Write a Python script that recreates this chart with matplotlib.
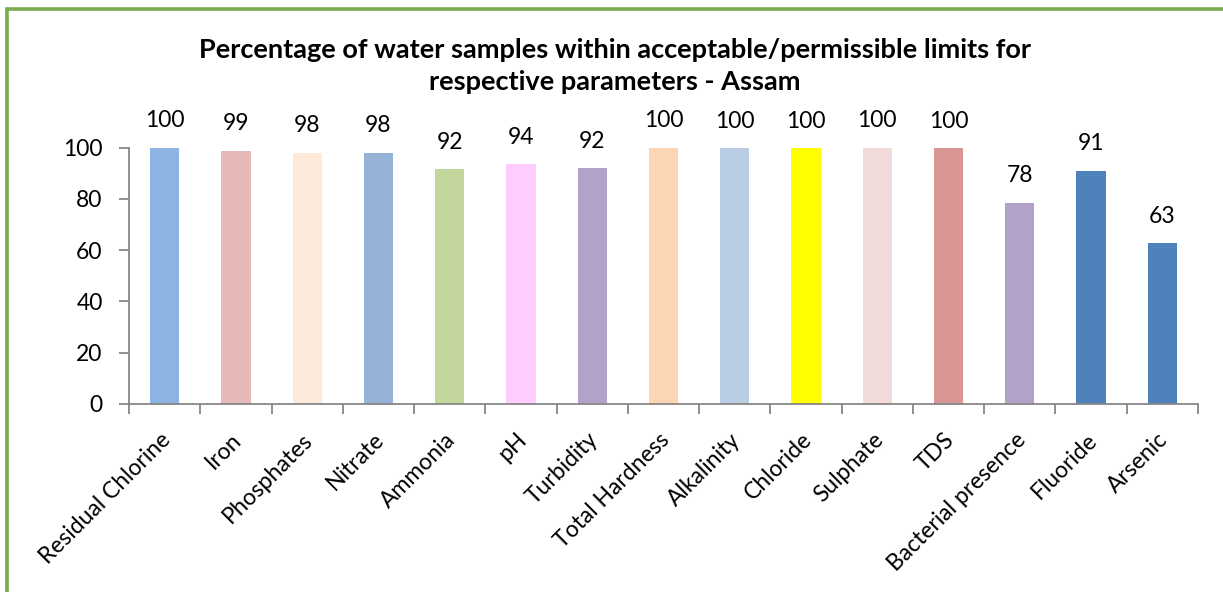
import matplotlib
matplotlib.use('Agg')
import matplotlib.pyplot as plt
from matplotlib.patches import Rectangle
from matplotlib.transforms import ScaledTranslation

plt.rcParams['font.family'] = ['Lato', 'DejaVu Sans']

# data
parameters = ['Residual Chlorine', 'Iron', 'Phosphates', 'Nitrate', 'Ammonia', 'pH',
              'Turbidity', 'Total Hardness', 'Alkalinity', 'Chloride', 'Sulphate',
              'TDS', 'Bacterial presence', 'Fluoride', 'Arsenic']
percent_ok = [99.9, 98.7, 97.9, 97.9, 91.6, 93.6, 92.0, 100.0, 99.8, 99.8, 100.0,
              99.8, 78.4, 91.0, 62.7]
bar_colors = ['#8EB4E3', '#E6B9B8', '#FDEADA', '#95B3D7', '#C3D69B', '#FFCCFF',
              '#B3A2C7', '#FCD5B5', '#B9CDE5', '#FFFF00', '#F2DCDB', '#D99694',
              '#B3A2C7', '#4F81BD', '#4F81BD']
y_ticks = [0, 20, 40, 60, 80, 100]
title = ('Percentage of water samples within acceptable/permissible limits for\n'
         'respective parameters - Assam')

W, H = 1223, 592
fig = plt.figure(figsize=(W / 100, H / 100), dpi=100)
ax = fig.add_axes([129 / W, 1 - 404 / H, (1198 - 129) / W, (404 - 147.7) / H])

x = list(range(len(parameters)))
bars = ax.bar(x, percent_ok, width=0.41, color=bar_colors, zorder=2)

for xi, v in zip(x, percent_ok):
    ax.annotate(f'{v:.0f}', (xi, v), xytext=(0, 19.5), textcoords='offset points',
                ha='center', va='center', fontsize=16.5, annotation_clip=False)

ax.set_xlim(-0.5, len(parameters) - 0.5)
ax.set_ylim(0, 100)
ax.set_yticks(y_ticks)
ax.tick_params(axis='y', labelsize=16.5, length=7, width=1.3, color='#878787', pad=12)

ax.set_xticks(x)
ax.set_xticklabels(parameters, rotation=45, ha='right', rotation_mode='anchor', fontsize=16.5)
ax.set_xticks([i - 0.5 for i in range(len(parameters) + 1)], minor=True)
ax.tick_params(axis='x', which='major', length=0, pad=18)
ax.tick_params(axis='x', which='minor', length=7, width=1.3, color='#878787')
shift = ScaledTranslation(-5 / 100, 0, fig.dpi_scale_trans)
for lbl in ax.get_xticklabels():
    lbl.set_transform(lbl.get_transform() + shift)

for side in ['top', 'right']:
    ax.spines[side].set_visible(False)
for side in ['left', 'bottom']:
    ax.spines[side].set_color('#878787')
    ax.spines[side].set_linewidth(1.3)

fig.text(0.503, 1 - 66 / H, title, ha='center', va='center', fontsize=19.5,
         fontweight='bold', linespacing=1.38)

# green chart border (runs off the right and bottom edges)
fig.patches.append(Rectangle((6.5 / W, -0.05), 1.1, 1 - 8.5 / H + 0.05,
                             transform=fig.transFigure, fill=False,
                             edgecolor='#77AD4E', linewidth=2.6))

fig.savefig('out.png', dpi=100)
